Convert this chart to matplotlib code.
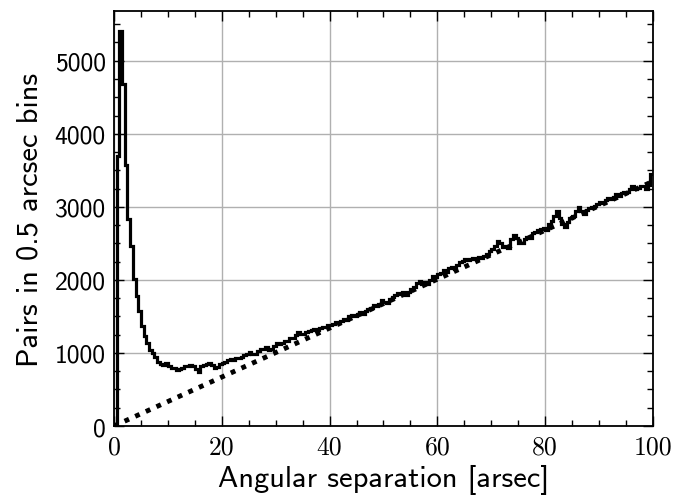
import numpy as np
import matplotlib
matplotlib.use("Agg")
import matplotlib.pyplot as plt
from matplotlib.ticker import MultipleLocator

# pair counts in 0.5 arcsec bins, 0 - 100 arcsec
pair_counts = [
    30, 3690, 5410, 4680, 3570, 2840, 2460, 2010, 1780, 1575,
    1370, 1235, 1140, 1045, 995, 940, 870, 850, 830, 860,
    815, 800, 790, 760, 780, 790, 815, 815, 835, 815,
    780, 745, 815, 835, 845, 860, 835, 800, 810, 850,
    860, 880, 905, 915, 900, 930, 925, 950, 970, 990,
    1015, 985, 980, 1030, 1050, 1060, 1075, 1040, 1060, 1100,
    1140, 1120, 1130, 1160, 1170, 1200, 1210, 1250, 1280, 1260,
    1255, 1290, 1300, 1310, 1330, 1320, 1345, 1360, 1350, 1385,
    1380, 1400, 1430, 1420, 1440, 1470, 1450, 1500, 1520, 1510,
    1540, 1560, 1540, 1580, 1600, 1620, 1650, 1640, 1670, 1720,
    1700, 1690, 1740, 1770, 1790, 1820, 1810, 1840, 1800, 1840,
    1870, 1900, 1960, 1980, 1950, 1970, 1940, 2000, 2050, 2040,
    2080, 2100, 2130, 2110, 2160, 2170, 2150, 2200, 2240, 2260,
    2280, 2270, 2290, 2300, 2280, 2310, 2300, 2330, 2350, 2400,
    2420, 2460, 2530, 2510, 2450, 2470, 2440, 2560, 2620, 2580,
    2510, 2500, 2560, 2590, 2570, 2640, 2650, 2680, 2700, 2710,
    2690, 2760, 2800, 2870, 2940, 2850, 2760, 2720, 2790, 2850,
    2880, 2950, 3000, 2940, 2900, 2960, 2990, 3000, 3010, 3040,
    3060, 3050, 3100, 3120, 3110, 3140, 3170, 3150, 3190, 3210,
    3200, 3250, 3280, 3240, 3260, 3290, 3280, 3250, 3300, 3450,
]
bin_width = 0.5

# expected (random) pairs, straight line
random_x = [0, 100]
random_y = [0, 3350]

x_ticks = [0, 20, 40, 60, 80, 100]
y_ticks = [0, 1000, 2000, 3000, 4000, 5000]

edges = np.arange(len(pair_counts) + 1) * bin_width

fig = plt.figure(figsize=(6.76, 5.02), dpi=100)
ax = fig.add_axes([0.1686, 0.1494, 0.7974, 0.8266])

ax.stairs(pair_counts, edges, color="black", lw=2.3, baseline=None, zorder=3)
ax.plot(random_x, random_y, color="black", lw=3.5, linestyle=(0, (1, 1.4)),
        dash_capstyle="butt", zorder=3)

ax.set_xlim(0, 100)
ax.set_ylim(0, max(pair_counts) * 1.05)
ax.set_xticks(x_ticks)
ax.set_yticks(y_ticks)
ax.xaxis.set_minor_locator(MultipleLocator(5))
ax.yaxis.set_minor_locator(MultipleLocator(250))

ax.grid(True, which="major", color="#b0b0b0", lw=1.0, zorder=0)
ax.tick_params(which="both", direction="in", top=True, right=True, width=1.0)
ax.tick_params(which="major", length=7, pad=6)
ax.tick_params(which="minor", length=4)
for sp in ax.spines.values():
    sp.set_linewidth(1.3)

for lab in ax.get_xticklabels():
    lab.set_fontfamily("cmr10")
    lab.set_fontsize(18.5)
for lab in ax.get_yticklabels():
    lab.set_fontfamily("cmss10")
    lab.set_fontsize(18.5)

ax.set_xlabel("Angular separation [arsec]", fontfamily="cmss10", fontsize=22, labelpad=4)
ax.set_ylabel("Pairs in 0.5 arcsec bins", fontfamily="cmss10", fontsize=22, labelpad=8)

fig.savefig("out.png", dpi=100)
